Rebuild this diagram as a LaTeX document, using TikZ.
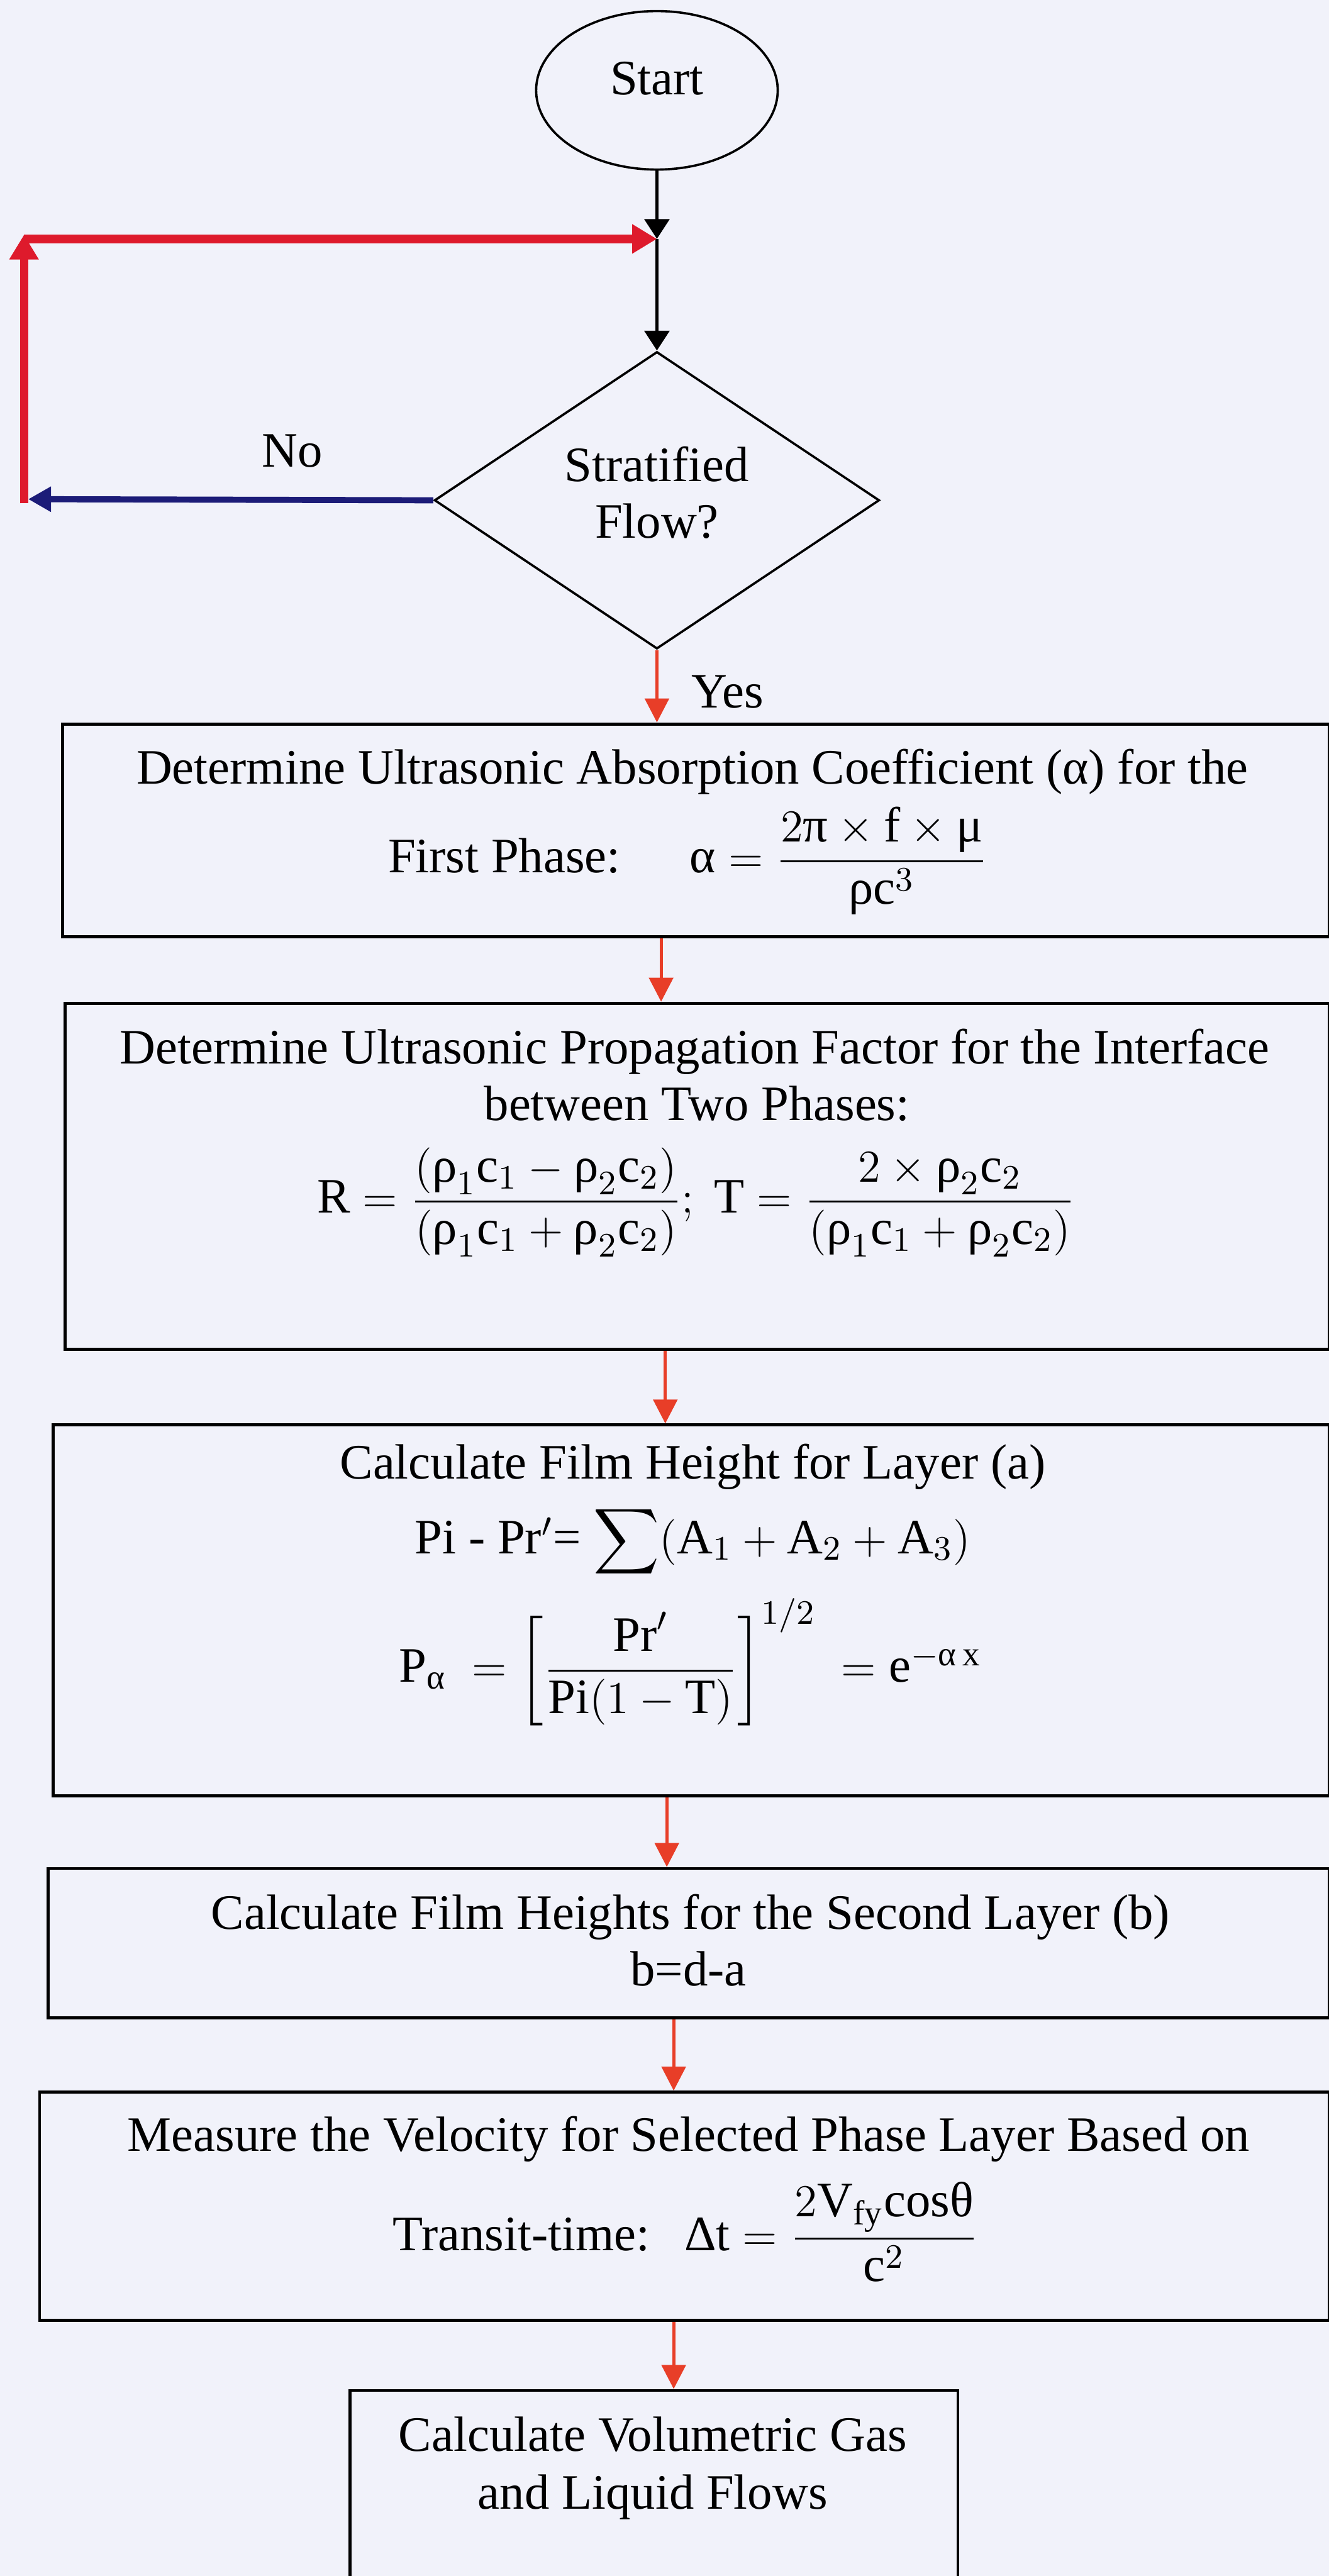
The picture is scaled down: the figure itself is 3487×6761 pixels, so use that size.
\documentclass[tikz,border=0pt]{standalone}
\usepackage{amsmath}
\usepackage{fontspec}
\setmainfont{Liberation Serif}
\usetikzlibrary{shapes.geometric,arrows.meta,calc}
\definecolor{bgcol}{RGB}{241,242,250}
\definecolor{loopred}{RGB}{222,26,44}
\definecolor{thinred}{RGB}{232,62,40}
\definecolor{navyblue}{RGB}{28,28,120}
\newcommand{\mya}{\text{α}}
\newcommand{\myr}{\text{ρ}}
\newcommand{\mym}{\text{μ}}
\newcommand{\myp}{\text{π}}
\newcommand{\myt}{\text{θ}}
\newcommand{\myD}{\text{Δ}}
\tikzset{
  procbox/.style={draw=black, line width=0.8pt, rectangle, inner sep=0pt, anchor=north west},
  blkarrow/.style={draw=black, line width=0.9pt, -{Triangle[length=5.2pt,width=6.5pt]}},
  redarrow/.style={draw=thinred, line width=0.8pt, -{Triangle[length=6.3pt,width=6.3pt]}},
  loopline/.style={draw=loopred, line width=2.2pt, -{Triangle[length=6.5pt,width=7.3pt]}},
  bluearrow/.style={draw=navyblue, line width=1.6pt, -{Triangle[length=6pt,width=6.3pt]}},
  lbl/.style={inner sep=0pt, anchor=base}
}
\begin{document}
\begin{tikzpicture}[x=0.1pt, y=-0.1pt, font=\fontsize{13}{15}\selectfont]
\useasboundingbox (0,0) rectangle (3487,6761);
\fill[bgcol] (0,0) rectangle (3487,6761);

% start and decision
\node[ellipse, draw, line width=0.6pt, minimum width=63.4pt, minimum height=41.6pt, inner sep=0pt, text depth=6.2pt] (start) at (1724,237) {Start};
\node[diamond, draw, line width=0.6pt, minimum width=116.8pt, minimum height=78pt, inner sep=0pt, align=center, text depth=4.2pt] (dec) at (1724,1313) {Stratified\\Flow?};
\node[lbl] (no) at (767,1225) {No};
\node[lbl, anchor=base west] (yes) at (1813,1858) {Yes};

\coordinate (J) at (1724,627);
\coordinate (C1) at (63,1310);
\coordinate (C2) at (63,627);

% boxes
\node[procbox, minimum width=332.4pt, minimum height=55.8pt] (b1) at (160,1896) {};
\node[procbox, minimum width=331.7pt, minimum height=90.8pt] (b2) at (167,2629) {};
\node[procbox, minimum width=334.9pt, minimum height=97.3pt] (b3) at (135,3736) {};
\node[procbox, minimum width=336.2pt, minimum height=39.2pt] (b4) at (122,4900) {};
\node[procbox, minimum width=338.4pt, minimum height=59.9pt] (b5) at (100,5487) {};
\node[procbox, line width=0.7pt, minimum width=159.5pt, minimum height=63pt] (b6) at (915,6270) {};

% texts
\node[lbl] (t1a) at (1817,2058) {Determine Ultrasonic Absorption Coefficient (α) for the};
\node[lbl] (t1b) at (1805,2291) {First Phase:\hspace{1.4em}$\mya=\dfrac{2\myp\times\mathrm{f}\times\mym}{\myr\mathrm{c}^{3}}$};

\node[lbl] (t2a) at (1823,2792) {Determine Ultrasonic Propagation Factor for the Interface};
\node[lbl] (t2b) at (1829,2940) {between Two Phases:};
\node[lbl] (t2c) at (1827,3183) {$\mathrm{R}=\dfrac{(\myr_{1}\mathrm{c}_{1}-\myr_{2}\mathrm{c}_{2})}{(\myr_{1}\mathrm{c}_{1}+\myr_{2}\mathrm{c}_{2})};\ \mathrm{T}=\dfrac{2\times\myr_{2}\mathrm{c}_{2}}{(\myr_{1}\mathrm{c}_{1}+\myr_{2}\mathrm{c}_{2})}$};

\node[lbl] (t3a) at (1818,3881) {Calculate Film Height for Layer (a)};
\node[lbl] (t3b) at (1818,4077) {Pi - Pr$'$= $\smash{\displaystyle\sum}(\mathrm{A}_{1}+\mathrm{A}_{2}+\mathrm{A}_{3})$};
\node[lbl] (t3c) at (1812,4415) {$\mathrm{P}_{\mya}\ =\left[\dfrac{\mathrm{Pr}'}{\mathrm{Pi}(1-\mathrm{T})}\right]^{1/2}\ =\mathrm{e}^{-\mya\,\mathrm{x}}$};

\node[lbl] (t4a) at (1812,5063) {Calculate Film Heights for the Second Layer (b)};
\node[lbl] (t4b) at (1807,5211) {b=d-a};

\node[lbl] (t5a) at (1807,5646) {Measure the Velocity for Selected Phase Layer Based on};
\node[lbl] (t5b) at (1799,5906) {Transit-time:\hspace{0.7em}$\myD\mathrm{t}=\dfrac{2\mathrm{V}_{\mathrm{fy}}\mathrm{cos}\myt}{\mathrm{c}^{2}}$};

\node[lbl] (t6a) at (1713,6433) {Calculate Volumetric Gas};
\node[lbl] (t6b) at (1713,6585) {and Liquid Flows};

% column x positions
\coordinate (x1) at (1735,0);
\coordinate (x2) at (1746,0);
\coordinate (x3) at (1750,0);
\coordinate (x4) at (1768,0);
\coordinate (x5) at (1768,0);

% connectors
\draw[blkarrow] (start.south) -- (J);
\draw[blkarrow] (J) -- (dec.north);
\draw[bluearrow, shorten >=1.1pt] (dec.west) -- (C1);
\draw[loopline, shorten >=-1.1pt, shorten <=-1.1pt] (C1) -- (C2);
\draw[loopline] (C2) -- (J);
\draw[redarrow] (dec.south) -- (dec.south |- b1.north);
\draw[redarrow] (b1.south -| x1) -- (b2.north -| x1);
\draw[redarrow] (b2.south -| x2) -- (b3.north -| x2);
\draw[redarrow] (b3.south -| x3) -- (b4.north -| x3);
\draw[redarrow] (b4.south -| x4) -- (b5.north -| x4);
\draw[redarrow] (b5.south -| x5) -- (b6.north -| x5);
\end{tikzpicture}
\end{document}
